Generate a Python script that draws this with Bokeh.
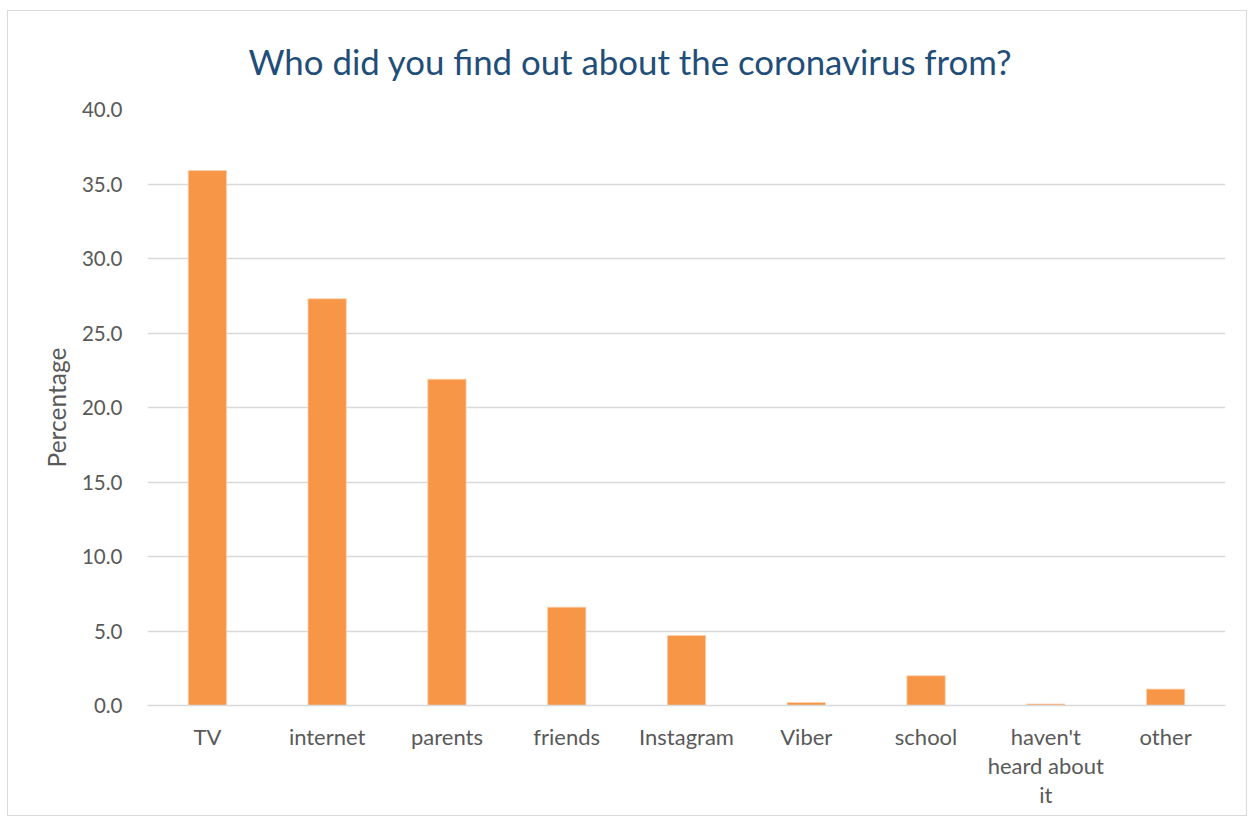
from bokeh.plotting import figure
from bokeh.models import (ColumnDataSource, SingleIntervalTicker, PrintfTickFormatter,
                          Range1d, FixedTicker)
from bokeh.embed import file_html
from bokeh.resources import INLINE

categories = ["TV", "internet", "parents", "friends", "Instagram", "Viber",
              "school", "haven't heard about it", "other"]
percentages = [35.9, 27.3, 21.9, 6.6, 4.7, 0.2, 2.0, 0.1, 1.1]
title_text = "Who did you find out about the coronavirus from?"
y_label = "Percentage"

FONT = "Lato"
GRID = "#D9D9D9"
TXT = "#595959"

idx = list(range(len(categories)))
src = ColumnDataSource(dict(x=idx, cat=categories, val=percentages))

p = figure(x_range=Range1d(-0.5, len(categories) - 0.5), y_range=Range1d(0, 40),
           width=1240, height=806, output_backend="svg", toolbar_location=None,
           min_border_left=139, min_border_right=23, min_border_top=98,
           min_border_bottom=112)
p.styles = {"border": "1.5px solid #D9D9D9", "margin-left": "7px", "margin-top": "10px"}

p.vbar(x="x", top="val", width=0.32, source=src, fill_color="#F79646",
       line_color="#FAD3B3", line_width=0.8)

p.title.text = title_text
p.title.text_font = FONT
p.title.text_font_size = "34.8px"
p.title.text_font_style = "normal"
p.title.text_color = "#1F4E79"
p.title.align = "left"
p.title.offset = 101
p.title.standoff = 55

p.outline_line_color = None
p.xgrid.grid_line_color = None
p.ygrid.grid_line_color = GRID
p.ygrid.grid_line_width = 1.5

p.yaxis.ticker = SingleIntervalTicker(interval=5)
p.yaxis.formatter = PrintfTickFormatter(format="%.1f")
p.yaxis.axis_line_color = None
p.yaxis.major_tick_line_color = None
p.yaxis.minor_tick_line_color = None
p.yaxis.major_label_text_font = FONT
p.yaxis.major_label_text_font_size = "20.5px"
p.yaxis.major_label_text_color = TXT
p.yaxis.major_label_standoff = 19
p.yaxis.axis_label = y_label
p.yaxis.axis_label_text_font = FONT
p.yaxis.axis_label_text_font_size = "24.5px"
p.yaxis.axis_label_text_font_style = "normal"
p.yaxis.axis_label_text_color = TXT
p.yaxis.axis_label_standoff = 8

wrapped = {"haven't heard about it": "haven't\nheard about\nit"}
p.xaxis.ticker = FixedTicker(ticks=idx)
p.xaxis.major_label_overrides = {i: wrapped.get(c, c) for i, c in zip(idx, categories)}
p.xaxis.axis_line_color = GRID
p.xaxis.axis_line_width = 1.5
p.xaxis.major_tick_line_color = None
p.xaxis.minor_tick_line_color = None
p.xaxis.major_label_text_font = FONT
p.xaxis.major_label_text_font_size = "22px"
p.xaxis.major_label_text_color = TXT
p.xaxis.major_label_standoff = 11
p.xaxis.major_label_text_line_height = 1.09

open("out.html", "w").write(file_html(p, INLINE))
